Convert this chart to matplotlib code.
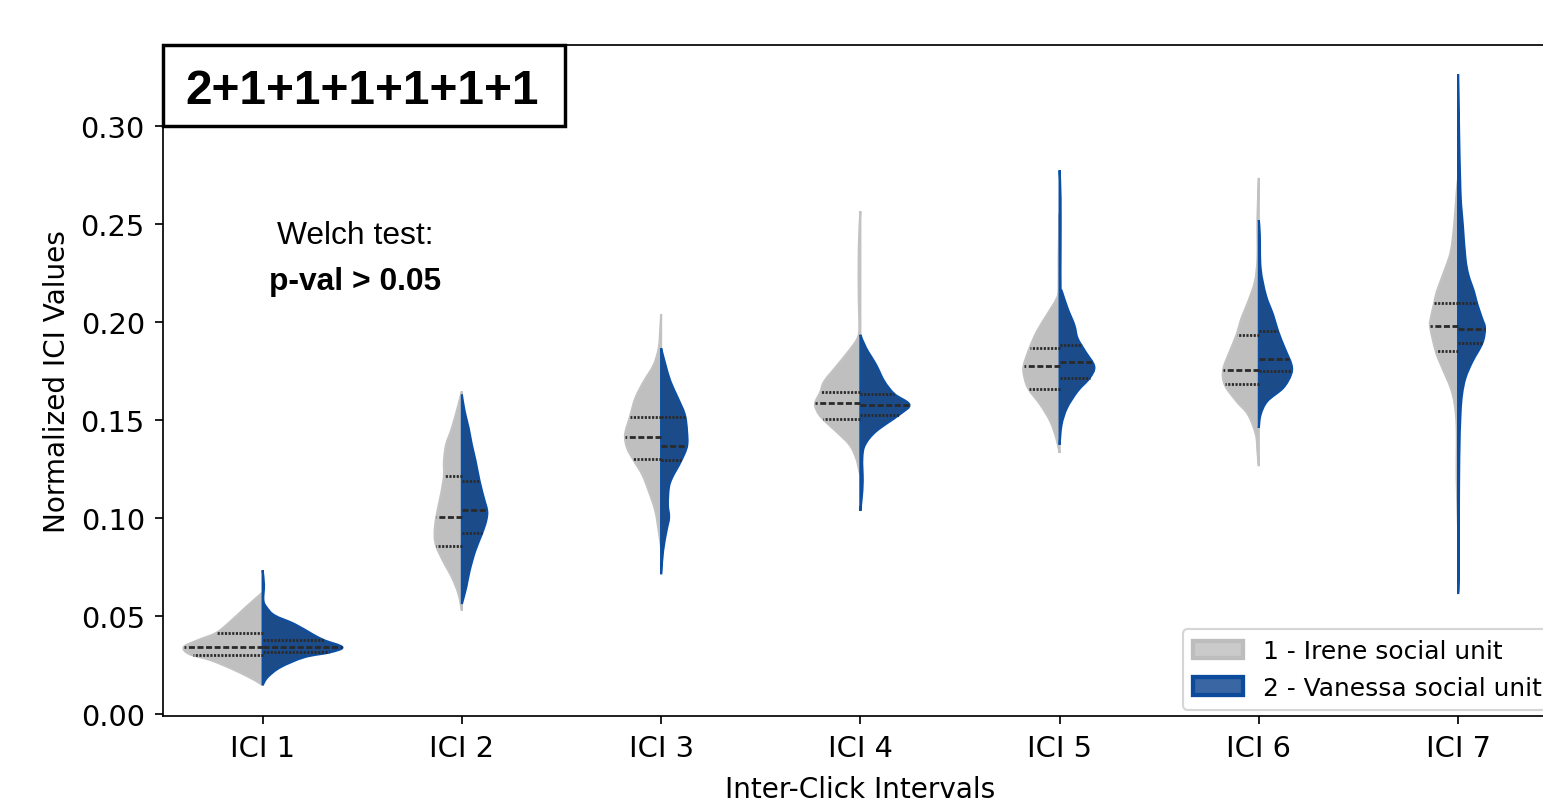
import numpy as np
import matplotlib.pyplot as plt
from matplotlib.patches import Patch, Rectangle, PathPatch
from matplotlib.path import Path

plt.rcParams["font.family"] = ["DejaVu Sans"]
plt.rcParams["font.size"] = 13

categories = ["ICI 1", "ICI 2", "ICI 3", "ICI 4", "ICI 5", "ICI 6", "ICI 7"]

# density outlines: y (ICI value) and half width per violin
irene_y = [
    [0.0620, 0.0544, 0.0459, 0.0412, 0.0376, 0.0341, 0.0305, 0.0275, 0.0224, 0.0173, 0.0147],
    [0.1646, 0.1578, 0.1459, 0.1374, 0.1290, 0.1214, 0.1120, 0.1002, 0.0917, 0.0858, 0.0782, 0.0697, 0.0612, 0.0527],
    [0.2039, 0.1950, 0.1866, 0.1781, 0.1696, 0.1612, 0.1514, 0.1425, 0.1358, 0.1298, 0.1222, 0.1137, 0.1035, 0.0933, 0.0848],
    [0.2564, 0.2374, 0.2120, 0.1967, 0.1917, 0.1866, 0.1781, 0.1697, 0.1642, 0.1586, 0.1544, 0.1505, 0.1442, 0.1374, 0.1307, 0.1239, 0.1221],
    [0.2553, 0.2324, 0.2171, 0.2120, 0.2035, 0.1951, 0.1866, 0.1773, 0.1714, 0.1658, 0.1578, 0.1493, 0.1408, 0.1332],
    [0.2734, 0.2527, 0.2324, 0.2205, 0.2102, 0.2019, 0.1934, 0.1849, 0.1756, 0.1679, 0.1595, 0.1527, 0.1425, 0.1340, 0.1264],
    [0.2730, 0.2663, 0.2493, 0.2358, 0.2256, 0.2154, 0.2095, 0.2019, 0.1973, 0.1849, 0.1764, 0.1663, 0.1578, 0.1459, 0.1205, 0.0951],
]
irene_w = [
    [0.0, 0.085, 0.176, 0.236, 0.326, 0.396, 0.366, 0.261, 0.140, 0.040, 0.0],
    [0.0, 0.017, 0.050, 0.079, 0.090, 0.090, 0.105, 0.129, 0.137, 0.129, 0.095, 0.050, 0.017, 0.0],
    [0.0, 0.005, 0.012, 0.037, 0.087, 0.129, 0.157, 0.181, 0.171, 0.140, 0.095, 0.062, 0.029, 0.012, 0.0],
    [0.0, 0.008, 0.008, 0.005, 0.014, 0.047, 0.114, 0.181, 0.201, 0.227, 0.217, 0.189, 0.122, 0.055, 0.022, 0.005, 0.0],
    [0.0, 0.005, 0.005, 0.014, 0.064, 0.114, 0.151, 0.181, 0.176, 0.156, 0.097, 0.047, 0.017, 0.0],
    [0.0, 0.007, 0.007, 0.020, 0.054, 0.087, 0.112, 0.146, 0.179, 0.171, 0.112, 0.054, 0.015, 0.007, 0.0],
    [0.0, 0.007, 0.020, 0.037, 0.070, 0.107, 0.120, 0.137, 0.140, 0.112, 0.079, 0.037, 0.017, 0.007, 0.007, 0.0],
]
vanessa_y = [
    [0.0733, 0.0660, 0.0580, 0.0544, 0.0503, 0.0459, 0.0407, 0.0376, 0.0341, 0.0315, 0.0290, 0.0239, 0.0188, 0.0147],
    [0.1629, 0.1544, 0.1459, 0.1374, 0.1290, 0.1188, 0.1103, 0.1036, 0.0985, 0.0917, 0.0832, 0.0731, 0.0646, 0.0561],
    [0.1866, 0.1781, 0.1696, 0.1612, 0.1527, 0.1443, 0.1366, 0.1290, 0.1205, 0.1154, 0.1069, 0.1002, 0.0934, 0.0832, 0.0713],
    [0.1934, 0.1866, 0.1781, 0.1697, 0.1632, 0.1578, 0.1527, 0.1442, 0.1374, 0.1307, 0.1188, 0.1103, 0.1036],
    [0.2773, 0.2629, 0.2375, 0.2171, 0.2154, 0.2069, 0.1984, 0.1917, 0.1849, 0.1773, 0.1714, 0.1646, 0.1561, 0.1476, 0.1374],
    [0.2519, 0.2443, 0.2273, 0.2137, 0.2035, 0.1951, 0.1866, 0.1781, 0.1730, 0.1663, 0.1595, 0.1527, 0.1459],
    [0.3264, 0.3035, 0.2663, 0.2493, 0.2324, 0.2239, 0.2154, 0.2095, 0.2019, 0.1968, 0.1892, 0.1798, 0.1714, 0.1630, 0.1528, 0.1308, 0.0951, 0.0697, 0.0612],
]
vanessa_w = [
    [0.0, 0.007, 0.004, 0.020, 0.060, 0.160, 0.250, 0.310, 0.400, 0.340, 0.210, 0.090, 0.025, 0.0],
    [0.0, 0.014, 0.034, 0.050, 0.069, 0.089, 0.110, 0.127, 0.122, 0.100, 0.067, 0.039, 0.022, 0.0],
    [0.0, 0.022, 0.047, 0.084, 0.119, 0.130, 0.130, 0.100, 0.055, 0.039, 0.034, 0.040, 0.027, 0.010, 0.0],
    [0.0, 0.029, 0.079, 0.120, 0.171, 0.246, 0.196, 0.079, 0.024, 0.010, 0.012, 0.007, 0.0],
    [0.0, 0.005, 0.005, 0.005, 0.012, 0.040, 0.074, 0.090, 0.129, 0.174, 0.151, 0.090, 0.037, 0.010, 0.0],
    [0.0, 0.005, 0.009, 0.035, 0.072, 0.097, 0.130, 0.164, 0.161, 0.122, 0.042, 0.009, 0.0],
    [0.0, 0.004, 0.012, 0.024, 0.037, 0.052, 0.080, 0.095, 0.120, 0.135, 0.122, 0.072, 0.037, 0.020, 0.012, 0.006, 0.004, 0.004, 0.0],
]

# q1, median, q3
irene_quart = [
    [0.0300, 0.0341, 0.0412],
    [0.0856, 0.1005, 0.1214],
    [0.1300, 0.1412, 0.1514],
    [0.1506, 0.1588, 0.1642],
    [0.1658, 0.1773, 0.1866],
    [0.1683, 0.1756, 0.1934],
    [0.1849, 0.1980, 0.2095],
]
vanessa_quart = [
    [0.0314, 0.0341, 0.0378],
    [0.0922, 0.1039, 0.1186],
    [0.1295, 0.1369, 0.1517],
    [0.1525, 0.1578, 0.1632],
    [0.1714, 0.1795, 0.1880],
    [0.1749, 0.1812, 0.1951],
    [0.1893, 0.1964, 0.2095],
]

labels = ["1 - Irene social unit", "2 - Vanessa social unit"]
gray_fill, gray_edge = "#bfbfbf", "#c2c2c2"
blue_fill, blue_edge = "#1c4b89", "#0c4fa2"
line_c = "#2a2a2a"

fig = plt.figure(figsize=(10, 809 / 154.3), dpi=154.3)
ax = fig.add_axes([163 / 1543, 1 - 717 / 809, (1557.7 - 163) / 1543, (717 - 46) / 809])


def half_outline(i, ys, ws, side):
    # smooth outline (bezier through the read points), closed along the centre line
    pts = np.column_stack([i + side * np.array(ws), np.array(ys)])
    n = len(pts)
    verts = [pts[0]]
    codes = [Path.MOVETO]
    for k in range(n - 1):
        p0, p1 = pts[max(k - 1, 0)], pts[k]
        p2, p3 = pts[k + 1], pts[min(k + 2, n - 1)]
        c1 = p1 + (p2 - p0) / 6
        c2 = p2 - (p3 - p1) / 6
        for c in (c1, c2):
            c[0] = i + side * max(side * (c[0] - i), 0)
        verts += [c1, c2, p2]
        codes += [Path.CURVE4] * 3
    verts += [pts[0], pts[0]]
    codes += [Path.LINETO, Path.CLOSEPOLY]
    return Path(verts, codes)


def draw_half(i, ys, ws, quart, side, fc, ec):
    ax.add_patch(PathPatch(half_outline(i, ys, ws, side), facecolor=fc, edgecolor=ec,
                           lw=1.0, zorder=2))
    y = np.array(ys)[::-1]
    w = np.array(ws)[::-1]
    lw = 1.3
    for k, q in enumerate(quart):
        wq = np.interp(q, y, w)
        ls = (0, (2.8 / lw, 1.2 / lw)) if k == 1 else (0, (1.0 / lw, 0.7 / lw))
        ax.plot([i, i + side * wq], [q, q], color=line_c, ls=ls, lw=lw, zorder=3)


for i in range(len(categories)):
    draw_half(i, irene_y[i], irene_w[i], irene_quart[i], -1, gray_fill, gray_edge)
    draw_half(i, vanessa_y[i], vanessa_w[i], vanessa_quart[i], 1, blue_fill, blue_edge)

ax.set_xlim(-0.5, 6.5)
ax.set_ylim(-0.001, 0.3412)
ax.set_xticks(range(len(categories)))
ax.set_xticklabels(categories)
ax.set_yticks(np.arange(0, 0.31, 0.05))
ax.yaxis.set_major_formatter(plt.FormatStrFormatter("%.2f"))
ax.tick_params(labelsize=13.5, pad=5)
ax.set_xlabel("Inter-Click Intervals", labelpad=6)
ax.set_ylabel("Normalized ICI Values", labelpad=4.5)

# pattern box in the corner
ax.add_patch(Rectangle((0, (717 - 127) / 671), (565 - 163) / 1394.7, 1 - (717 - 127) / 671,
                       transform=ax.transAxes, facecolor="white", edgecolor="black",
                       lw=1.6, zorder=5, clip_on=False))
ax.text((362 - 163) / 1394.7, (717 - 91) / 671, "2+1+1+1+1+1+1", transform=ax.transAxes,
        ha="center", va="center", fontsize=22.3, fontweight="bold",
        family="Liberation Sans", zorder=6)

ax.text((355 - 163) / 1394.7, (717 - 236) / 671, "Welch test:", transform=ax.transAxes,
        ha="center", va="center", fontsize=14.8, family="Liberation Sans")
ax.text((355 - 163) / 1394.7, (717 - 282) / 671, "p-val > 0.05", transform=ax.transAxes,
        ha="center", va="center", fontsize=14.8, fontweight="bold", family="Liberation Sans")

handles = [Patch(facecolor="#cacaca", edgecolor="#bdbdbd", lw=2),
           Patch(facecolor="#3a66a4", edgecolor="#0c4b9c", lw=2)]
ax.legend(handles, labels, loc="lower right", fontsize=11.6, borderaxespad=0.25)

fig.savefig("out.png", dpi=154.3)
